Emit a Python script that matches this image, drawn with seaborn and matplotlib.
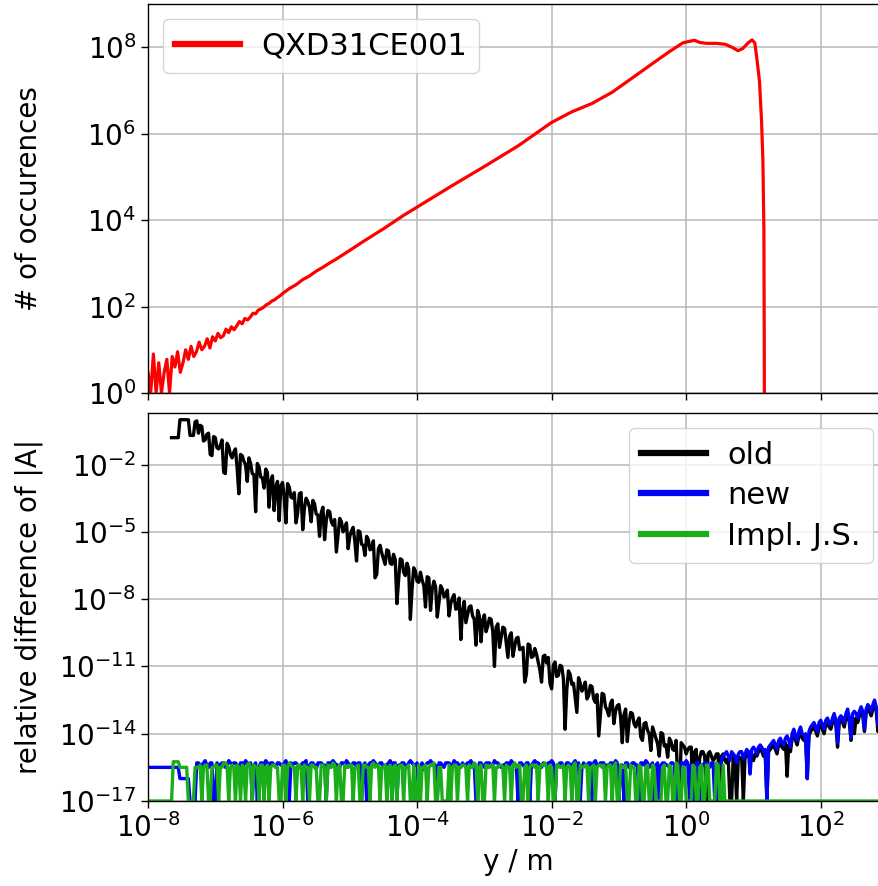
import numpy as np
import matplotlib
matplotlib.use("Agg")
import matplotlib.pyplot as plt
import seaborn as sns
from matplotlib.ticker import FixedLocator, NullLocator

# ---------------------------------------------------------------------------
# Histogram of y positions for QXD31CE001 (counts per logarithmic bin)
# ---------------------------------------------------------------------------
hist_noisy_exp = np.round(np.arange(-8.0, -5.99, 0.04), 2)          # bin centres, log10(y/m)
hist_noisy_counts = [3, 1, 8, 1, 5, 1, 3, 6, 1, 7,
                     4, 9, 3, 5, 10, 6, 12, 7, 9, 15,
                     10, 12, 18, 11, 20, 16, 24, 19, 21, 30,
                     25, 34, 29, 36, 45, 40, 53, 49, 57, 70,
                     68, 83, 88, 97, 110, 118, 134, 143, 160, 176,
                     200]
hist_smooth_exp = [-5.90, -5.80, -5.70, -5.60, -5.50, -5.40, -5.30, -5.20, -5.00, -4.80,
                   -4.50, -4.20, -4.00, -3.50, -3.00, -2.50, -2.00, -1.70, -1.40, -1.10,
                   -0.80, -0.50, -0.25, -0.05, 0.12, 0.20, 0.30, 0.45, 0.58, 0.68,
                   0.77, 0.84, 0.92, 0.98, 1.02, 1.05, 1.09, 1.12, 1.14, 1.155,
                   1.16, 1.162]
hist_smooth_counts = [2.6e2, 3.2e2, 4.2e2, 5.1e2, 6.6e2, 8.1e2, 1.02e3, 1.26e3, 2.0e3, 3.2e3,
                      6.3e3, 1.29e4, 2.0e4, 6.0e4, 1.74e5, 5.2e5, 1.82e6, 3.2e6, 5.0e6, 9.1e6,
                      1.95e7, 4.2e7, 7.9e7, 1.26e8, 1.45e8, 1.29e8, 1.23e8, 1.23e8, 1.17e8, 1.0e8,
                      8.3e7, 9.3e7, 1.26e8, 1.48e8, 1.26e8, 5.6e7, 1.6e7, 2.0e6, 2.5e5, 6.3e3,
                      32, 1]

# ---------------------------------------------------------------------------
# Relative difference of |A| as log10 values.  "*_log" holds the samples on a
# 0.05-decade grid, "*_mid" the samples half way between them.
# -17 marks an exact match (drawn on the lower axis limit).
# ---------------------------------------------------------------------------
step = 0.05

old_start = -7.65
old_log = [
    -0.8, -0.8, -0.8, 0.0, 0.0, 0.0, -0.7, -0.1,
    -0.6, -0.3, -0.9, -0.6, -1.6, -0.8,
    -1.3, -0.9, -2.4, -1.2, -1.7, -1.3, -3.3, -1.6, -2.0, -1.7,
    -2.4, -4.1, -2.1, -2.6, -2.2, -3.9, -2.5, -3.0, -4.5, -2.8,
    -4.6, -3.0, -3.5, -4.6, -3.3, -4.9, -3.5, -3.9, -3.6, -4.2,
    -5.2, -3.9, -4.5, -4.1, -4.7, -5.9, -4.4, -5.0, -4.6, -5.2,
    -4.8, -6.3, -5.0, -5.6, -5.2, -5.8, -5.4, -6.9, -5.6, -6.2,
    -5.8, -6.4, -6.0, -8.2, -6.2, -6.8, -6.4, -8.9, -6.6, -7.2,
    -6.8, -7.4, -7.0, -8.5, -7.2, -8.8, -7.4, -7.9, -7.6, -8.2,
    -7.8, -8.4, -9.8, -8.1, -8.7, -8.3, -8.9, -8.5, -9.9, -8.7,
    -9.2, -8.9, -11.0, -9.1, -9.7, -9.3, -10.6, -9.5, -10.1, -9.7,
    -10.2, -11.7, -10.0, -10.6, -10.2, -10.8, -11.7, -10.5, -10.6, -12.0,
    -10.8, -11.4, -11.0, -13.8, -11.2, -11.8, -12.4, -11.5, -12.1, -11.7,
    -12.3, -11.9, -12.6, -14.1, -12.2, -12.8, -13.2, -12.5, -13.0, -12.7,
    -14.4, -12.9, -13.5, -13.1, -13.7, -13.3, -14.3, -13.5, -14.0, -13.7,
    -14.2, -15.0, -14.0, -14.5, -14.2, -14.7, -14.3, -17.0, -14.5, -14.9,
    -14.6, -17.0, -14.7, -15.1, -14.8, -17.0, -14.8, -15.2, -14.9, -17.0,
    -14.9, -15.3, -17.0, -15.0, -17.0, -15.1, -17.0, -15.0, -14.8, -15.2,
    -15.0, -14.7, -15.0, -17.0, -14.7, -14.5, -14.9, -14.4, -14.7, -15.9,
    -14.8, -14.0, -14.5, -13.9, -14.3, -16.0, -13.9, -13.7, -14.1, -13.6,
    -14.0, -13.5, -13.8, -13.3, -14.6, -13.4, -13.7, -13.1, -14.3, -14.0,
    -13.5, -13.0, -13.9, -12.9, -13.2, -12.7, -13.9, -12.6, -12.8,
]
old_mid = [
    -0.8, -0.8, 0.0, 0.0, 0.0, -0.7, -0.7, -0.05,
    -0.25, -0.95, -0.65, -1.55, -0.75, -1.25, -1.15, -2.35, -1.05, -1.55,
    -1.45, -2.15, -1.55, -1.85, -2.75, -1.95, -2.45, -1.95, -2.55, -3.05,
    -2.35, -2.75, -4.05, -2.75, -2.95, -3.45, -2.85, -3.45, -3.25, -4.15,
    -3.25, -3.95, -3.65, -4.55, -3.75, -4.25, -4.15, -5.35, -4.05, -4.55,
    -4.45, -5.15, -4.55, -4.85, -5.75, -4.95, -5.45, -4.95, -5.55, -6.05,
    -5.35, -5.75, -7.05, -5.75, -5.95, -6.45, -5.85, -6.45, -6.25, -7.15,
    -6.25, -6.95, -6.65, -7.55, -6.75, -7.25, -7.15, -8.35, -7.05, -7.55,
    -7.45, -8.15, -7.55, -7.85, -8.75, -7.95, -8.45, -7.95, -8.55, -9.05,
    -8.35, -8.75, -10.05, -8.75, -8.95, -9.45, -8.85, -9.45, -9.25, -10.15,
    -9.25, -9.95, -9.65, -10.55, -9.75, -10.25, -10.15, -11.35, -10.05, -10.55,
    -10.45, -11.15, -10.55, -10.85, -11.75, -10.95, -11.45, -10.95, -11.55, -12.05,
    -11.35, -11.75, -13.05, -11.75, -11.95, -12.45, -11.85, -12.45, -12.25, -13.15,
    -12.25, -12.95, -12.65, -13.55, -12.75, -13.25, -13.15, -14.35, -13.05, -13.55,
    -13.45, -14.15, -13.55, -13.85, -14.75, -13.95, -14.45, -13.95, -14.55, -15.05,
    -14.35, -14.75, -16.05,
    -14.4, -14.6, -14.7, -14.6, -14.8, -17.0, -14.8, -15.0, -14.9, -15.0,
    -15.1, -14.9, -15.0, -15.2, -15.1, -17.0, -15.2, -15.0, -15.1, -15.0,
    -14.9, -15.0,
    -14.9, -14.8, -14.8, -14.9, -14.8, -14.6, -14.7, -14.5, -14.6, -14.4,
    -14.5, -14.2, -14.3, -14.1, -14.2, -14.2, -14.1, -13.8, -13.9, -13.7,
    -13.8, -13.6, -13.7, -13.5, -13.6, -13.5, -13.5, -13.3, -13.5, -13.3,
    -13.3, -13.2, -13.2, -13.1, -13.0, -12.9, -13.0, -12.8, -12.7,
]

new_start = -8.0
new_log = [
    -15.5, -15.5, -15.5, -15.5, -15.5, -15.5, -15.5, -15.5, -15.5, -15.5,
    -16.0, -16.0, -16.0, -17.0, -17.0,
    -15.3, -15.4, -15.2, -15.5, -15.3, -17.0, -15.4, -15.3, -15.5, -15.2,
    -15.4, -15.3, -15.6, -15.3, -15.2, -15.4, -17.0, -15.3, -15.5, -15.3,
    -15.2, -15.4, -15.3, -15.5, -15.3, -15.4, -15.2, -17.0, -15.4, -15.3,
    -15.5, -15.3, -15.2, -15.4, -15.3, -15.6, -15.3, -15.4, -17.0, -15.3,
    -15.2, -15.4, -15.5, -15.3, -15.2, -15.4, -15.3, -15.5, -15.3, -15.4,
    -17.0, -15.3, -15.2, -15.4, -15.3, -15.5, -15.4, -15.2, -15.3, -17.0,
    -15.4, -15.3, -15.5, -15.2, -15.4, -15.3, -15.4, -15.6, -15.3, -15.2,
    -15.4, -17.0, -15.3, -15.5, -15.3, -15.4, -15.2, -15.3, -15.5, -15.4,
    -15.3, -15.2, -15.4, -17.0, -15.3, -15.5, -15.3, -15.4, -15.2, -15.3,
    -15.5, -15.4, -15.3, -15.2, -15.4, -17.0, -15.3, -15.5, -15.3, -15.4,
    -15.2, -15.3, -15.5, -15.4, -15.3, -15.2, -17.0, -15.4, -15.3, -15.5,
    -15.3, -15.4, -15.2, -15.3, -15.5, -15.4, -15.3, -17.0, -15.2, -15.4,
    -15.3, -15.5, -15.4, -15.3, -15.2, -17.0, -15.4, -15.3, -15.5, -15.3,
    -15.4, -17.0, -15.3, -15.2, -15.5, -15.3, -15.4, -17.0, -15.3, -15.4,
    -15.5, -15.3, -17.0, -15.4, -15.3, -15.2, -17.0, -15.4, -15.3, -17.0,
    -15.4, -15.3, -15.5, -15.3, -17.0, -15.4,
    -15.0, -14.8, -15.2, -14.9, -15.3, -14.8, -15.1, -14.7, -15.8, -14.6,
    -14.9, -14.5, -14.8, -17.0, -14.5, -14.3, -14.7, -14.2, -14.5, -14.1,
    -14.6, -13.8, -14.3, -13.7, -14.1, -16.0, -13.7, -13.5, -13.9, -13.4,
    -13.8, -13.3, -13.6, -13.1, -14.4, -13.2, -13.5, -12.9, -14.2, -13.0,
    -13.3, -12.8, -13.8, -12.7, -13.0, -12.5, -13.6, -12.4, -12.6,
]
new_mid = [
    -15.5, -15.5, -15.5, -15.5, -15.5, -15.5, -15.5, -15.5, -15.5,
    -16.0, -16.0, -16.0, -17.0, -17.0, -15.3,
    -15.4, -15.3, -15.4, -15.3, -17.0, -15.3, -15.4, -15.3, -15.4, -15.3,
    -15.3, -15.4, -15.3, -15.4, -15.3, -15.3, -15.4, -17.0, -15.3, -15.4,
    -15.3, -15.3, -15.4, -15.3, -15.4, -15.3, -15.4, -15.3, -15.3, -15.4,
    -15.4, -15.3, -17.0, -15.3, -15.4, -15.3, -15.3, -15.4, -15.3, -15.3,
    -15.3, -15.4, -15.3, -15.4, -15.3, -15.4, -15.3, -15.3, -17.0, -15.3,
    -15.4, -15.3, -15.3, -15.4, -15.3, -15.4, -15.3, -15.4, -15.3, -15.4,
    -15.3, -15.4, -15.3, -15.3, -15.4, -17.0, -15.3, -15.4, -15.3, -15.3,
    -15.4, -15.3, -15.4, -15.3, -15.3, -15.4, -15.3, -15.4, -15.3, -15.4,
    -15.3, -15.4, -17.0, -15.3, -15.4, -15.3, -15.3, -15.4, -15.3, -15.4,
    -15.4, -15.3, -15.4, -15.3, -15.4, -15.3, -15.4, -15.3, -17.0, -15.3,
    -15.3, -15.4, -15.3, -15.4, -15.3, -15.3, -15.4, -15.3, -15.4, -15.3,
    -15.4, -15.3, -15.4, -17.0, -15.3, -15.4, -15.3, -15.3, -15.4, -15.3,
    -15.3, -15.4, -15.3, -15.4, -15.3, -15.4, -17.0, -15.3, -15.4, -15.3,
    -15.4, -15.3, -15.4, -15.3, -15.4, -17.0, -15.3, -15.4, -15.3, -15.4,
    -15.3, -15.4, -17.0, -15.3, -15.4, -15.3, -15.4, -17.0, -15.3, -15.4,
    -15.3, -15.4, -15.3, -17.0, -15.4,
    -15.2,
    -14.9, -15.0, -14.8, -15.0, -14.9, -14.8, -14.9, -14.8, -14.7, -14.7,
    -14.6, -14.6, -14.7, -14.6, -14.4, -14.5, -14.3, -14.4, -14.2, -14.3,
    -14.0, -14.1, -13.9, -14.0, -14.0, -13.9, -13.6, -13.7, -13.5, -13.6,
    -13.4, -13.5, -13.3, -13.4, -13.3, -13.3, -13.1, -13.3, -13.1, -13.1,
    -13.0, -13.0, -12.9, -12.8, -12.7, -12.8, -12.6, -12.5,
]

js_start = -8.0
js_log = [
    -17.0, -17.0, -17.0, -17.0, -17.0, -17.0, -17.0, -17.0,
    -15.25, -15.25, -15.5, -15.5, -17.0, -17.0, -15.5,
    -15.5, -17.0, -15.4, -17.0, -15.5, -15.4, -17.0, -15.5, -15.3, -17.0,
    -15.4, -17.0, -15.5, -15.4, -17.0, -15.3, -17.0, -15.5, -17.0, -15.4,
    -15.5, -17.0, -15.4, -15.5, -17.0, -15.4, -17.0, -15.3, -15.5, -17.0,
    -15.4, -17.0, -15.5, -17.0, -15.4, -15.5, -17.0, -15.4, -17.0, -15.5,
    -15.3, -17.0, -15.4, -17.0, -15.5, -15.4, -17.0, -15.5, -17.0, -15.4,
    -15.5, -17.0, -15.3, -15.4, -17.0, -15.5, -17.0, -15.4, -15.5, -17.0,
    -15.4, -17.0, -15.5, -17.0, -15.4, -17.0, -17.0, -15.5, -17.0, -15.4,
    -15.3, -17.0, -15.5, -17.0, -17.0, -17.0, -15.4, -17.0, -15.5, -15.4,
    -17.0, -15.5, -15.3, -17.0, -15.4, -17.0, -15.5, -15.4, -17.0, -15.5,
    -15.4, -17.0, -15.5, -17.0, -15.3, -15.4, -17.0, -15.5, -17.0, -15.4,
    -15.5, -17.0, -15.4, -15.3, -17.0, -15.5, -17.0, -15.4, -15.5, -17.0,
    -15.4, -17.0, -15.3, -17.0, -15.5, -15.4, -17.0, -15.5, -17.0, -15.4,
    -15.5, -17.0, -15.4, -17.0, -15.3, -17.0, -15.5, -15.4, -17.0, -15.5,
    -17.0, -15.4, -17.0, -15.5, -17.0, -15.4, -17.0, -17.0, -15.5, -17.0,
    -15.4, -17.0, -15.3, -17.0, -15.5, -17.0, -17.0, -15.4, -17.0, -15.5,
    -17.0, -15.4, -17.0, -17.0, -15.3, -17.0, -15.4,
    -17.0, -17.0, -17.0, -17.0, -17.0, -17.0, -17.0, -17.0, -17.0, -17.0,
    -17.0, -17.0, -17.0, -17.0, -17.0, -17.0, -17.0, -17.0, -17.0, -17.0,
    -17.0, -17.0, -17.0, -17.0, -17.0, -17.0, -17.0, -17.0, -17.0, -17.0,
    -17.0, -17.0, -17.0, -17.0, -17.0, -17.0, -17.0, -17.0, -17.0, -17.0,
    -17.0, -17.0, -17.0, -17.0, -17.0, -17.0, -17.0, -17.0,
]
js_mid = [
    -17.0, -17.0, -17.0, -17.0, -17.0, -17.0, -17.0,
    -15.25, -15.25, -15.5, -15.5, -15.5, -17.0, -17.0, -15.5,
    -15.4, -15.5, -15.4, -17.0, -15.5, -15.4, -15.5, -15.3, -15.4, -15.5,
    -15.5, -15.4, -17.0, -15.5, -15.4, -15.5, -15.4, -15.5, -15.4, -17.0,
    -15.4, -15.5, -15.4, -15.5, -17.0, -15.4, -15.5, -15.4, -15.5, -15.4,
    -15.5, -15.4, -15.5, -15.4, -15.5, -17.0, -15.4, -15.5, -15.4, -15.5,
    -15.4, -15.5, -17.0, -15.4, -15.5, -15.4, -15.5, -15.4, -17.0, -15.4,
    -15.5, -15.4, -15.5, -15.4, -15.5, -15.4, -15.5, -17.0, -15.4, -15.5,
    -15.4, -15.5, -15.4, -17.0, -17.0, -15.4, -15.5, -15.4, -15.5, -15.4,
    -17.0, -15.5, -17.0, -17.0, -15.4, -15.5, -15.4, -15.5, -15.4, -15.5,
    -15.4, -15.5, -15.4, -15.5, -17.0, -15.4, -15.5, -15.4, -15.5, -15.4,
    -15.5, -15.4, -15.5, -15.4, -15.5, -15.4, -17.0, -15.4, -15.5, -15.4,
    -15.4, -15.5, -15.4, -15.5, -15.4, -17.0, -15.4, -15.5, -15.4, -15.5,
    -15.5, -15.4, -17.0, -15.4, -15.5, -15.4, -15.5, -15.4, -15.5, -15.4,
    -15.4, -15.5, -15.4, -15.5, -17.0, -15.4, -15.5, -17.0, -15.4, -15.5,
    -17.0, -15.5, -17.0, -15.4, -17.0, -15.5, -17.0, -17.0, -15.4, -17.0,
    -15.5, -17.0, -15.4, -17.0, -15.5, -17.0, -17.0, -15.5, -17.0, -15.4,
    -17.0, -15.4, -17.0, -17.0, -15.4, -17.0,
    -17.0,
    -17.0, -17.0, -17.0, -17.0, -17.0, -17.0, -17.0, -17.0, -17.0, -17.0,
    -17.0, -17.0, -17.0, -17.0, -17.0, -17.0, -17.0, -17.0, -17.0, -17.0,
    -17.0, -17.0, -17.0, -17.0, -17.0, -17.0, -17.0, -17.0, -17.0, -17.0,
    -17.0, -17.0, -17.0, -17.0, -17.0, -17.0, -17.0, -17.0, -17.0, -17.0,
    -17.0, -17.0, -17.0, -17.0, -17.0, -17.0, -17.0,
]

diff_series = [
    ("old", old_start, old_log, old_mid, "#000000"),
    ("new", new_start, new_log, new_mid, "#0000ff"),
    ("Impl. J.S.", js_start, js_log, js_mid, "#1aaf1a"),
]


def merge_samples(grid_vals, mid_vals):
    """Interleave grid samples with the samples half way between them."""
    assert len(mid_vals) == len(grid_vals) - 1, (len(grid_vals), len(mid_vals))
    out = np.empty(len(grid_vals) + len(mid_vals))
    out[0::2] = grid_vals
    out[1::2] = mid_vals
    return out


# ---------------------------------------------------------------------------
plt.rcParams.update({
    "font.family": ["DejaVu Sans"],
    "font.size": 20,
    "axes.linewidth": 1.0,
    "xtick.major.width": 1.0,
    "ytick.major.width": 1.0,
    "xtick.major.size": 5,
    "ytick.major.size": 5,
    "grid.color": "#b8b8b8",
    "grid.linewidth": 1.1,
})

W, H = 879, 886
fig = plt.figure(figsize=(W / 100, H / 100), dpi=100)
left = 148 / W
width = 740 / W
ax1 = fig.add_axes([left, (H - 393) / H, width, 389 / H])
ax2 = fig.add_axes([left, (H - 801) / H, width, 388 / H], sharex=ax1)

for ax in (ax1, ax2):
    ax.set_xscale("log")
    ax.set_yscale("log")

# top panel: histogram
hist_x = 10.0 ** np.concatenate([hist_noisy_exp, hist_smooth_exp])
hist_y = np.concatenate([hist_noisy_counts, hist_smooth_counts]).astype(float)
sns.lineplot(x=hist_x, y=hist_y, ax=ax1, color="#ff0000", lw=2.3,
             estimator=None, sort=False, label="QXD31CE001")

# bottom panel: relative differences
for name, start, grid_vals, mid_vals, col in diff_series:
    logs = merge_samples(grid_vals, mid_vals)
    xs = 10.0 ** (start + 0.5 * step * np.arange(len(logs)))
    ys = 10.0 ** logs
    sns.lineplot(x=xs, y=ys, ax=ax2, color=col, lw=2.4,
                 estimator=None, sort=False, label=name)

ax1.set_xlim(1e-8, 1e3)
ax1.set_ylim(1.0, 1e9)
ax2.set_ylim(1e-17, 10 ** 0.3)

ax1.xaxis.set_major_locator(FixedLocator([1e-8, 1e-6, 1e-4, 1e-2, 1e0, 1e2]))
ax1.yaxis.set_major_locator(FixedLocator([1e0, 1e2, 1e4, 1e6, 1e8]))
ax2.yaxis.set_major_locator(FixedLocator([1e-17, 1e-14, 1e-11, 1e-8, 1e-5, 1e-2]))
for ax in (ax1, ax2):
    ax.xaxis.set_minor_locator(NullLocator())
    ax.yaxis.set_minor_locator(NullLocator())
    ax.grid(True, which="major")
    ax.set_axisbelow(True)
ax1.tick_params(axis="x", labelbottom=False)

ax1.set_ylabel("# of occurences")
ax2.set_ylabel("relative difference of |A|")
ax2.set_xlabel("y / m")
ax1.yaxis.set_label_coords(-0.142, 0.5)
ax2.yaxis.set_label_coords(-0.142, 0.5)

leg1 = ax1.legend(loc="upper left", handlelength=2.1, handletextpad=0.7,
                  fontsize=22, labelspacing=0.38)
leg2 = ax2.legend(loc="upper right", handlelength=2.1, handletextpad=0.7,
                  fontsize=22, labelspacing=0.38)
for leg in (leg1, leg2):
    for ln in leg.get_lines():
        ln.set_linewidth(4.5)

fig.savefig("out.png", dpi=100)
